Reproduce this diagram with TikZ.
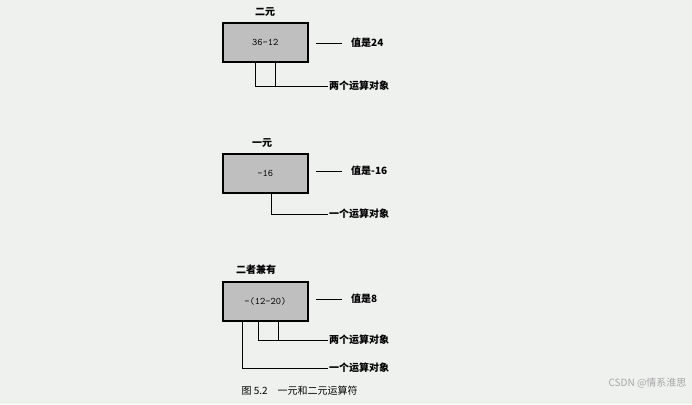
\documentclass[tikz,border=0pt]{standalone}
\usepackage{fontspec}
\setmainfont{Liberation Serif}
\newfontfamily\cjk{Noto Sans CJK SC}
\begin{document}
\begin{tikzpicture}[x=1pt,y=-1pt,
  box/.style={draw=black,line width=1.6pt,fill=gray!50!white,minimum width=85pt,minimum height=39pt,anchor=north west,inner sep=0pt,font=\ttfamily},
  lbl/.style={anchor=west,font=\cjk\bfseries,inner sep=1pt},
  ttl/.style={font=\cjk\bfseries,inner sep=1pt},
  ln/.style={line width=0.8pt}]
\fill[green!6!gray!12!white] (0,0) rectangle (692,404);
\useasboundingbox (0,0) rectangle (692,404);
% box 1
\node[box] (b1) at (222,22) {36-12};
\node[ttl] (t1) at (265,12) {二元};
\node[lbl] (v1) at (350,43) {值是24};
\coordinate (v1s) at (316,43);
\draw[ln] (v1s) -- (342,43);
\node[lbl] (o1) at (328,86) {两个运算对象};
\coordinate (p1) at (255,62); \coordinate (q1) at (275,62);
\draw[ln] (p1) |- (o1.west); \draw[ln] (q1) -- (275,86);
% box 2
\node[box] (b2) at (222,153) {-16};
\node[ttl] (t2) at (262,143) {一元};
\node[lbl] (v2) at (350,171) {值是-16};
\coordinate (v2s) at (316,171);
\draw[ln] (v2s) -- (342,171);
\node[lbl] (o2) at (328,214) {一个运算对象};
\coordinate (p2) at (271,192);
\draw[ln] (p2) |- (o2.west);
% box 3
\node[box] (b3) at (222,281) {-(12-20)};
\node[ttl] (t3) at (256,270) {二者兼有};
\node[lbl] (v3) at (350,299) {值是8};
\coordinate (v3s) at (316,299);
\draw[ln] (v3s) -- (342,299);
\node[lbl] (o3) at (328,340) {两个运算对象};
\node[lbl] (o4) at (328,368) {一个运算对象};
\coordinate (p3) at (258,320); \coordinate (q3) at (278,320); \coordinate (r3) at (242,320);
\draw[ln] (p3) |- (o3.west); \draw[ln] (q3) -- (278,340);
\draw[ln] (r3) |- (o4.west);
\node[font=\cjk,anchor=west] (cap) at (238,391) {图 5.2\quad 一元和二元运算符};
\node[font=\cjk,text=gray!70,anchor=east] (wm) at (690,383) {CSDN @情系淮思};
\end{tikzpicture}
\end{document}
